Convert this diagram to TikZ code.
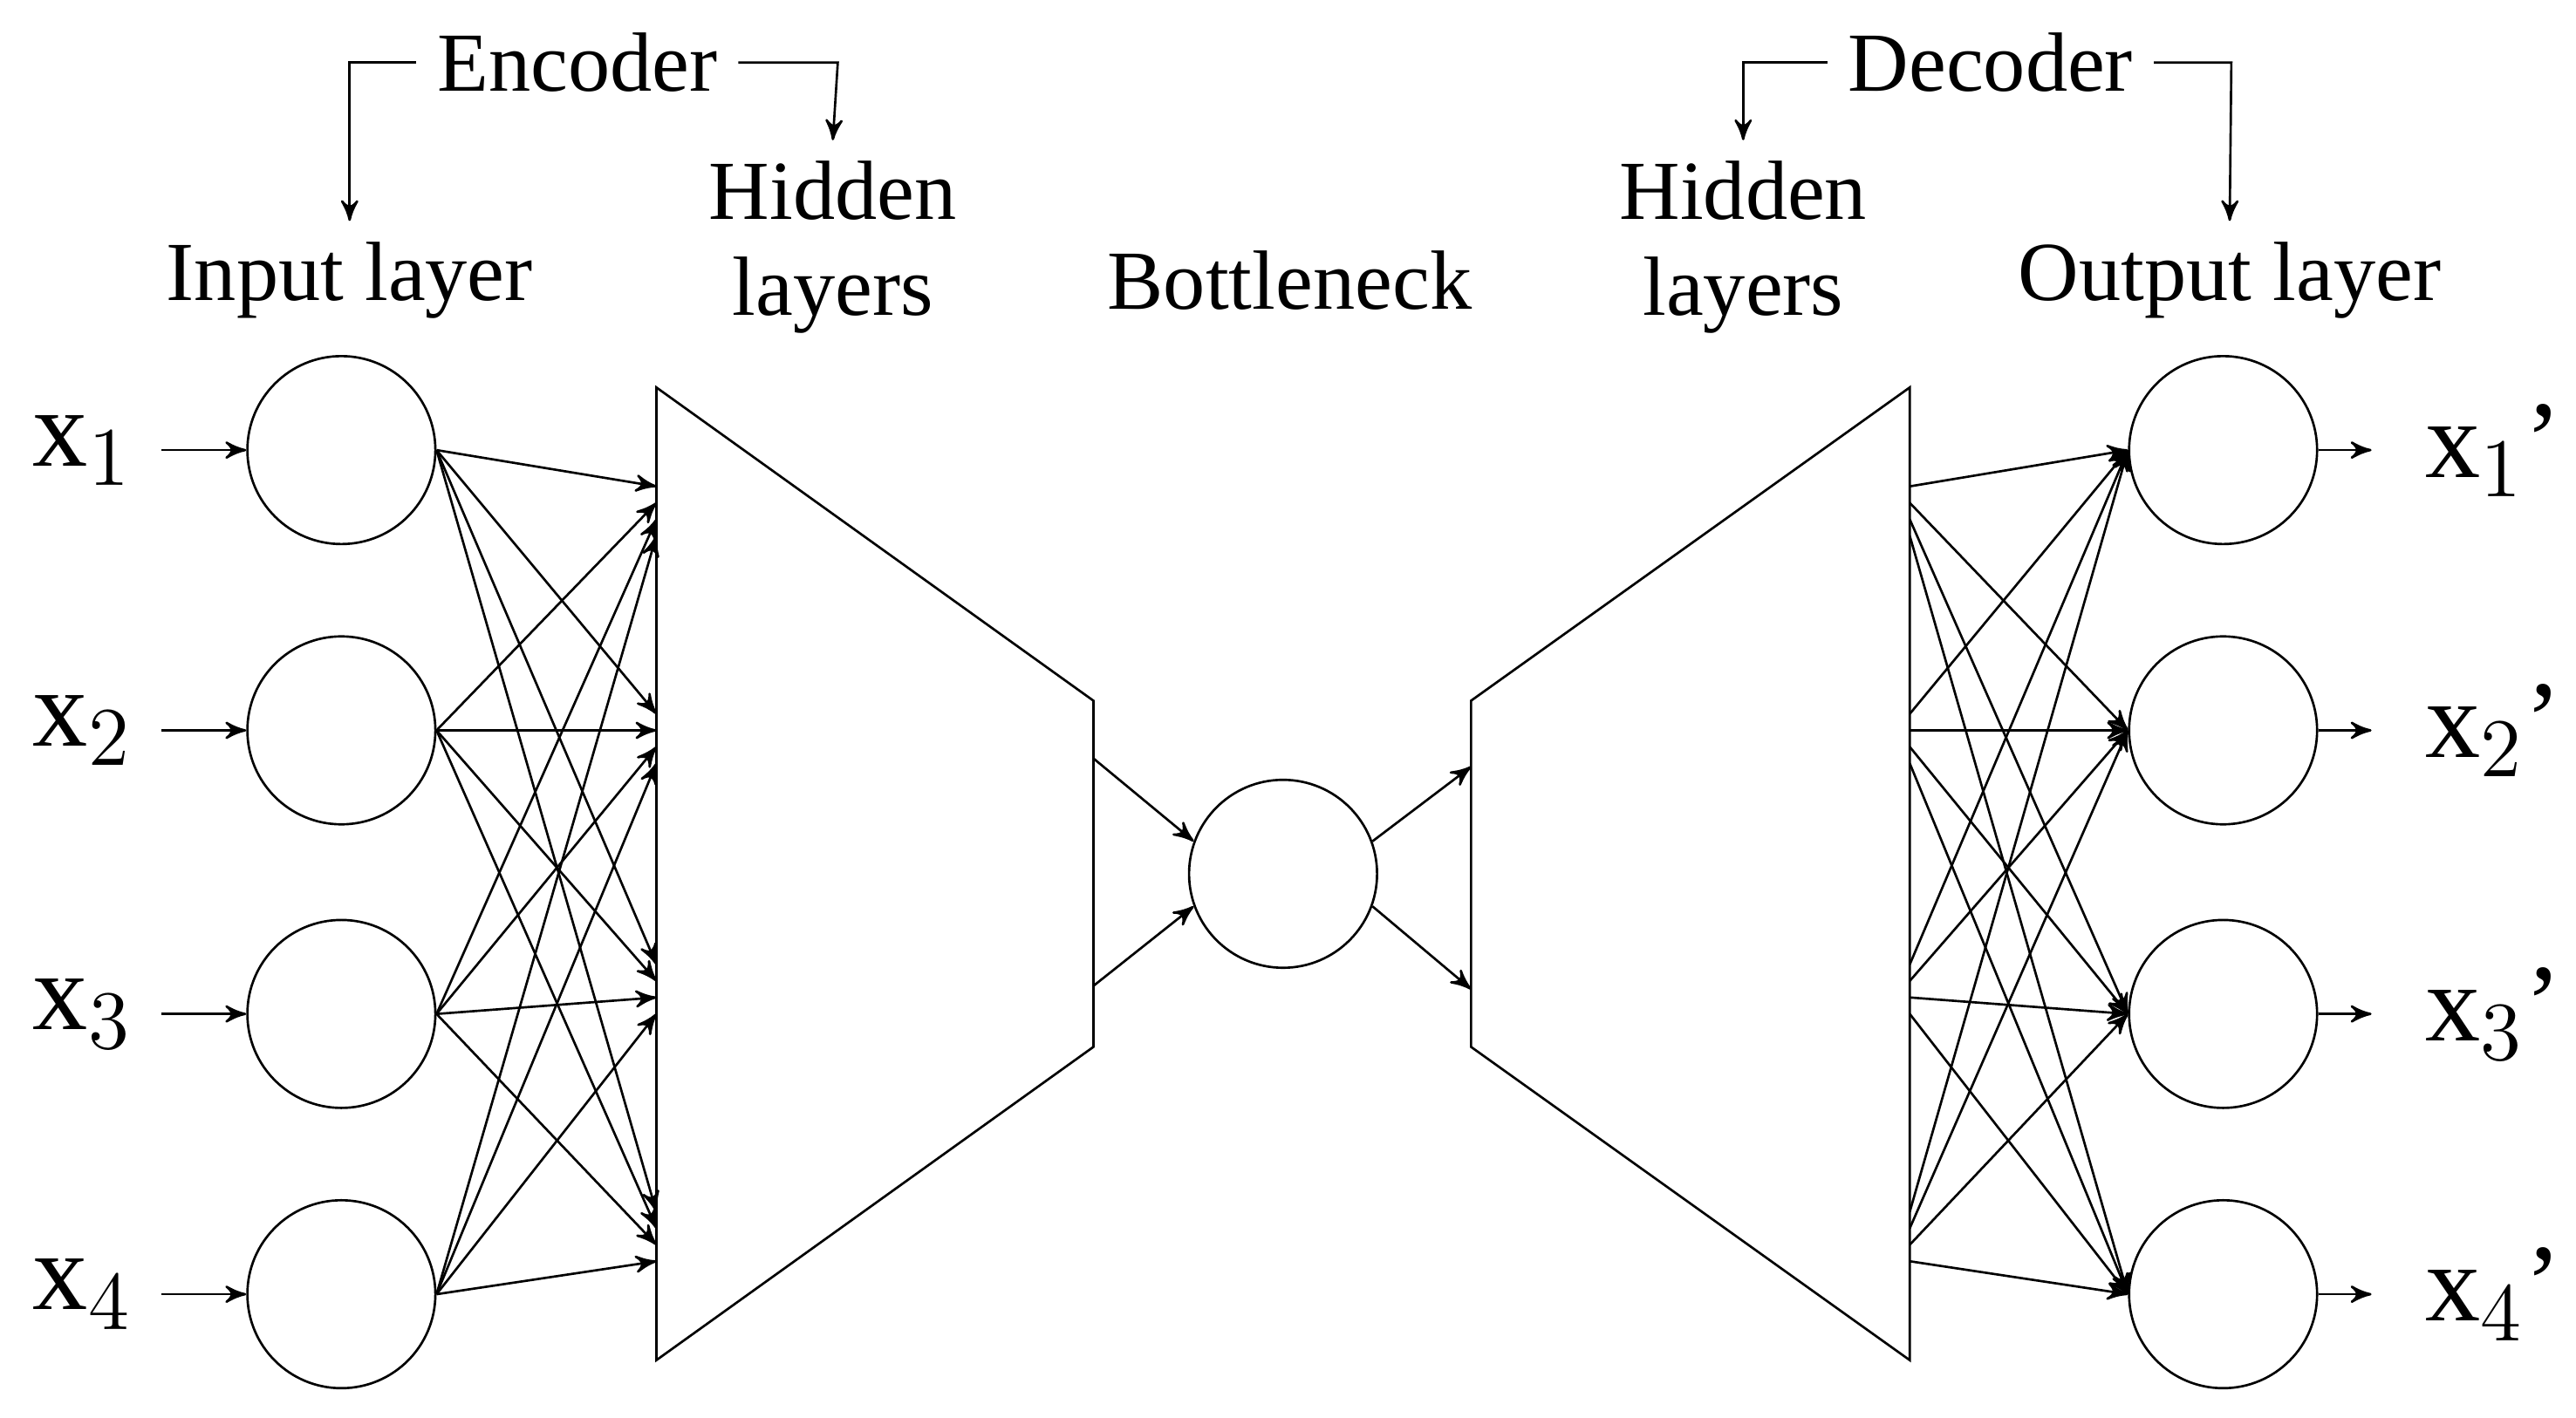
\documentclass[tikz,border=0pt]{standalone}
\usepackage{fontspec}
\setmainfont{Liberation Serif}
\usetikzlibrary{arrows,positioning}
\begin{document}
\begin{tikzpicture}[x=1cm,y=1cm,>=stealth',semithick]
  \tikzstyle{neuron}=[circle,draw,thin,minimum size=1.14cm,inner sep=0pt]
  \tikzstyle{lbl}=[font=\fontsize{14.5}{16.5}\selectfont,align=center]
  \tikzstyle{xl}=[font=\fontsize{19}{21}\selectfont]
  \tikzstyle{wire}=[->,thin]
  \useasboundingbox (0,0) rectangle (15.62,8.6);

  % layers
  \foreach \i/\y in {1/5.87,2/4.17,3/2.45,4/0.75}{
    \node[neuron] (in\i) at (2.07,\y) {};
    \node[neuron] (out\i) at (13.48,\y) {};
    \node[xl] (x\i) at (0.5,\y) {x$_{\i}$};
    \node[xl] (xo\i) at (15.12,\y) {x$_{\i}$'};
    \draw[wire] (x\i.east) ++(0.05,0) coordinate (s\i) -- (in\i);
    \draw[wire] (out\i) -- ++(0.9,0) coordinate (e\i);
  }
  \node[neuron] (bn) at (7.78,3.3) {};

  % trapezoids
  \draw[thin] (3.98,6.25) -- (6.63,4.35) -- (6.63,2.25) -- (3.98,0.35) -- cycle;
  \draw[thin] (11.58,6.25) -- (8.92,4.35) -- (8.92,2.25) -- (11.58,0.35) -- cycle;

  % wires
  \foreach \j/\y in {1/5.5,2/4.12,3/2.6,4/1.1}{
    \foreach \i in {1,...,4}{
      \coordinate (t\i\j) at (3.98,\y+0.25-0.1*\i);
      \draw[wire] (in\i.east) -- (t\i\j);
      \coordinate (u\i\j) at (11.58,\y+0.25-0.1*\i);
      \draw[wire] (u\i\j) -- (out\i.west);
    }
  }
  \coordinate (a1) at (6.63,4.0); \coordinate (a2) at (6.63,2.62);
  \coordinate (b1) at (8.92,3.95); \coordinate (b2) at (8.92,2.6);
  \draw[wire] (a1) -- (bn.160);
  \draw[wire] (a2) -- (bn.200);
  \draw[wire] (bn.20) -- (b1);
  \draw[wire] (bn.-20) -- (b2);

  % labels
  \node[lbl] (lin) at (2.12,6.9) {Input layer};
  \node[lbl] (lh1) at (5.05,7.1) {Hidden\\layers};
  \node[lbl] (lbn) at (7.82,6.9) {Bottleneck};
  \node[lbl] (lh2) at (10.57,7.1) {Hidden\\layers};
  \node[lbl] (lout) at (13.52,6.9) {Output layer};
  \node[lbl] (enc) at (3.5,8.22) {Encoder};
  \node[lbl] (dec) at (12.07,8.22) {Decoder};

  \draw[->,thin] (enc.west) -- (2.12,8.22) -- (lin.north);
  \draw[->,thin] (enc.east) -- (5.08,8.22) -- (lh1.north);
  \draw[->,thin] (dec.west) -- (10.57,8.22) -- (lh2.north);
  \draw[->,thin] (dec.east) -- (13.53,8.22) -- (lout.north);
\end{tikzpicture}
\end{document}
